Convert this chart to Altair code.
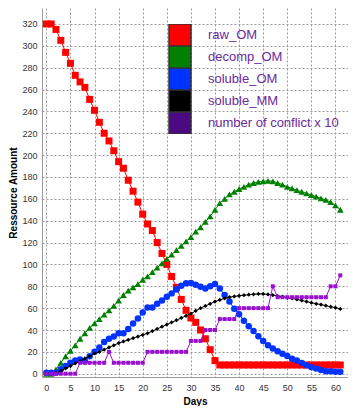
import altair as alt
import pandas as pd

days = list(range(62))

raw_om = [320, 320, 315, 305, 294, 284, 273, 267, 262, 251,
          241, 230, 220, 213, 204, 194, 188, 177, 167, 157,
          146, 137, 131, 120, 110, 100, 89, 79, 68, 58,
          51, 47, 40, 32, 22, 12, 8, 8, 8, 8,
          8, 8, 8, 8, 8, 8, 8, 8, 8, 8,
          8, 8, 8, 8, 8, 8, 8, 8, 8, 8,
          8, 8]

decomp_om = [0, 0, 4, 10, 16, 21, 26, 32, 37, 42,
             46, 50, 54, 58, 62, 67, 72, 76, 79, 82,
             86, 89, 93, 97, 101, 105, 109, 113, 117, 121,
             125, 130, 134, 139, 144, 150, 156, 160, 164, 166.5,
             169, 171, 173, 174.5, 175.5, 176, 176.5, 176, 174.5, 173,
             171, 169.5, 168, 166.5, 165, 163.5, 162, 160.5, 159, 157,
             154, 150]

soluble_om = [1, 1, 1, 4, 7, 10, 12, 13, 11.5, 16,
              20, 24, 29, 32, 34, 37, 37, 41, 46, 50.5,
              56, 60.5, 60.5, 64, 67, 70.5, 73.5, 77, 80.5, 82.7,
              83, 81.5, 79.5, 78, 80, 82, 78, 72, 66, 59.5,
              54.5, 48.5, 43.5, 39, 34.2, 30, 26, 23, 20.5, 18.3,
              16.2, 13.8, 12, 9.8, 7.8, 6, 4.8, 3.3, 2.3, 2.2,
              1.8, 1.8]

soluble_mm = [0, 0, 0.5, 2.5, 5, 7, 9.5, 11.5, 14, 16,
              18.5, 20, 22, 24, 26, 28, 29.5, 31, 32.5, 34,
              35.5, 37, 39, 41, 43, 45, 47, 49, 51, 53,
              55, 57.5, 60, 62, 64, 66, 67.5, 69, 70, 70.7,
              71.3, 71.8, 72.3, 72.7, 73, 73, 72.5, 72, 71, 70.5,
              69.5, 69, 68, 67, 66, 65, 64, 63.3, 62.3, 61.3,
              60.4, 59.3]

conflicts_x10 = [0, 0, 0, 0, 0, 0, 0, 10, 10, 10,
                 10, 10, 10, 20, 10, 10, 10, 10, 10, 10,
                 10, 20, 20, 20, 20, 20, 20, 20, 20, 20,
                 30, 30, 30, 40, 40, 40, 50, 50, 50, 50,
                 60, 60, 60, 60, 60, 60, 60, 80, 70, 70,
                 70, 70, 70, 70, 70, 70, 70, 70, 70, 80,
                 80, 90]

series_names = ["raw_OM", "decomp_OM", "soluble_OM", "soluble_MM",
                "number of conflict x 10"]
line_colors = ["#ff0000", "#008000", "#0033ff", "#000000", "#9a10d0"]
legend_colors = ["#ff0000", "#008000", "#0033ff", "#000000", "#4b0a82"]
shapes = ["square", "triangle-up", "circle", "diamond", "square"]
sizes = [49, 45, 42, 18, 16]

x_ticks = list(range(0, 61, 5))
y_ticks = list(range(0, 321, 20))

df = pd.DataFrame({
    "day": days,
    "raw_OM": raw_om,
    "decomp_OM": decomp_om,
    "soluble_OM": soluble_om,
    "soluble_MM": soluble_mm,
    "number of conflict x 10": conflicts_x10,
})
long = df.melt("day", var_name="series", value_name="value")

x = alt.X("day:Q",
          scale=alt.Scale(domain=[-0.9, 62.6], nice=False, zero=False),
          axis=alt.Axis(values=x_ticks, title="Days", labelPadding=6,
                        titlePadding=4))
y = alt.Y("value:Q",
          scale=alt.Scale(domain=[-3, 334.6], nice=False, zero=False),
          axis=alt.Axis(values=y_ticks, title="Ressource Amount",
                        labelPadding=5, titlePadding=3))

layers = []
for name, col, shp, sz in zip(series_names, line_colors, shapes, sizes):
    base = alt.Chart(long).transform_filter(alt.datum.series == name)
    layers.append(base.mark_line(color=col, strokeWidth=1).encode(x=x, y=y))
    layers.append(base.mark_point(shape=shp, size=sz, filled=True, color=col,
                                  opacity=1).encode(x=x, y=y))

leg_df = pd.DataFrame({"series": series_names})
legend_layer = alt.Chart(leg_df).mark_square(opacity=0, size=1).encode(
    color=alt.Color(
        "series:N",
        sort=series_names,
        scale=alt.Scale(domain=series_names, range=legend_colors),
        legend=alt.Legend(
            title=None, orient="none", legendX=126, legendY=16,
            symbolType="square", symbolSize=484,
            symbolStrokeColor="#333333", symbolStrokeWidth=1.5,
            symbolOpacity=1, labelFontSize=13, labelColor="#6a2a9e",
            labelFont="Liberation Sans", labelOffset=16, rowPadding=0,
            clipHeight=22, padding=0, labelLimit=300,
        ),
    )
)

chart = alt.layer(*layers, legend_layer).properties(
    width=306, height=369, padding=0
).configure_view(stroke=None).configure_axis(
    grid=True, gridDash=[2, 2], gridColor="#9a9a9a", gridWidth=1,
    domainColor="#999999", ticks=False,
    labelFont="Liberation Sans", labelFontSize=9, labelColor="#333333",
    titleFont="Liberation Sans", titleFontSize=10, titleFontWeight="bold",
    titleColor="#000000",
)

chart.save("out.html", embed_options={"renderer": "svg", "actions": False})
